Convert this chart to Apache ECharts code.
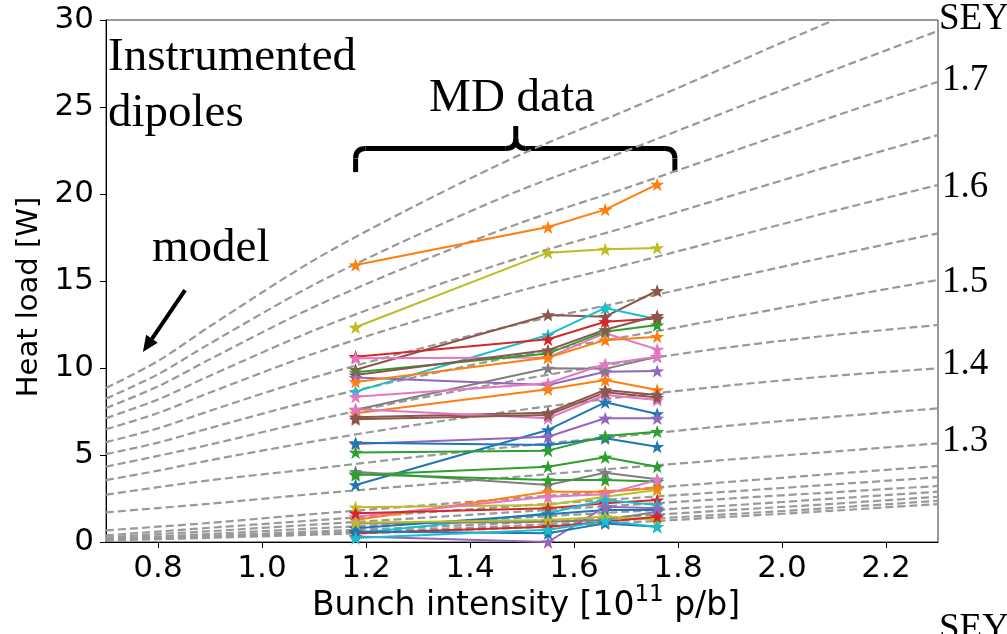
<!DOCTYPE html>
<html>
<head>
<meta charset="utf-8">
<script src="https://cdn.jsdelivr.net/npm/echarts@6/dist/echarts.min.js"></script>
<style>
html,body{margin:0;padding:0;background:#fff;}
#c{width:1007px;height:634px;}
</style>
</head>
<body>
<div id="c"></div>
<script>
// ---------- data ----------
// model curves: heat load [W] sampled at these bunch intensities
const modelX = [0.7, 0.8, 0.9, 1.1, 1.3, 1.5, 1.7, 1.9, 2.1, 2.3];
const modelSEY = [1.80, 1.75, 1.70, 1.65, 1.60, 1.55, 1.50, 1.45, 1.40, 1.35, 1.30, 1.25, 1.20, 1.15, 1.10, 1.05, 1.00, 0.95];
const modelHeat = [
  [8.85, 10.4, 12.4, 16.2, 19.4, 22.3, 24.8, 27.4, 30.0, 32.5],
  [8.24, 9.64, 11.41, 14.79, 17.66, 20.26, 22.48, 24.81, 27.13, 29.37],
  [7.70, 8.94, 10.51, 13.51, 16.06, 18.37, 20.34, 22.40, 24.46, 26.45],
  [7.12, 8.19, 9.56, 12.16, 14.38, 16.38, 18.09, 19.88, 21.67, 23.39],
  [6.48, 7.41, 8.59, 10.83, 12.74, 14.47, 15.94, 17.49, 19.03, 20.52],
  [5.74, 6.53, 7.54, 9.46, 11.09, 12.57, 13.83, 15.15, 16.47, 17.74],
  [5.05, 5.71, 6.55, 8.15, 9.51, 10.75, 11.80, 12.90, 14.00, 15.06],
  [4.33, 4.95, 5.60, 7.00, 8.25, 9.35, 10.35, 11.20, 11.90, 12.47],
  [3.56, 4.10, 4.70, 5.78, 6.75, 7.60, 8.35, 9.00, 9.55, 9.98],
  [2.72, 3.15, 3.55, 4.21, 4.90, 5.53, 6.10, 6.69, 7.20, 7.68],
  [1.70, 1.95, 2.20, 2.76, 3.27, 3.77, 4.27, 4.74, 5.20, 5.67],
  [0.67, 0.88, 1.10, 1.61, 2.08, 2.54, 3.00, 3.46, 3.92, 4.37],
  [0.38, 0.60, 0.82, 1.24, 1.67, 2.09, 2.50, 2.90, 3.31, 3.72],
  [0.26, 0.45, 0.62, 1.00, 1.37, 1.75, 2.12, 2.50, 2.86, 3.22],
  [0.18, 0.32, 0.46, 0.78, 1.08, 1.40, 1.74, 2.10, 2.50, 2.89],
  [0.13, 0.24, 0.35, 0.60, 0.85, 1.12, 1.46, 1.83, 2.20, 2.60],
  [0.11, 0.20, 0.29, 0.50, 0.71, 0.95, 1.26, 1.60, 1.97, 2.37],
  [0.09, 0.16, 0.24, 0.42, 0.61, 0.82, 1.11, 1.45, 1.80, 2.18]
];

// MD data
const mdX = [1.18, 1.55, 1.66, 1.76];
const mdColors = [
  'orange','olive','brown','cyan','red','pink','green','brown','purple','orange',
  'gray','pink','orange','brown','pink','brown',
  'blue','purple','blue','green','green','gray','green',
  'olive','orange','pink','red','cyan','gray','blue','purple','olive','red','blue','cyan'
];
const mdValues = [
  [15.92, 18.1, 19.1, 20.55],
  [12.34, 16.63, 16.82, 16.9],
  [9.9, 13.05, 12.95, 14.44],
  [8.64, 11.9, 13.45, 12.8],
  [10.65, 11.65, 12.66, 12.85],
  [10.56, 10.61, 12.0, 11.07],
  [9.75, 10.84, 12.09, 12.47],
  [9.6, 11.03, 12.2, 13.0],
  [9.45, 9.02, 9.79, 9.83],
  [9.2, 10.6, 11.6, 11.8],
  [7.6, 9.98, 9.95, 10.65],
  [8.35, 9.12, 10.23, 10.65],
  [7.4, 8.78, 9.31, 8.74],
  [7.17, 7.43, 8.74, 8.45],
  [7.63, 7.11, 8.45, 8.16],
  [7.05, 7.3, 8.6, 8.3],
  [3.28, 6.44, 8.03, 7.36],
  [5.63, 6.05, 7.11, 7.11],
  [5.7, 5.57, 5.96, 5.48],
  [5.15, 5.25, 6.09, 6.34],
  [3.85, 4.33, 4.87, 4.33],
  [4.04, 3.28, 3.98, 3.6],
  [3.9, 3.56, 3.56, 3.47],
  [2.0, 2.13, 2.6, 2.99],
  [1.26, 2.89, 2.89, 3.09],
  [1.45, 2.6, 2.75, 3.56],
  [1.65, 1.94, 2.22, 2.41],
  [0.5, 1.65, 2.41, 2.13],
  [1.07, 1.17, 1.26, 1.74],
  [0.79, 1.6, 1.84, 1.84],
  [0.31, 0.0, 2.03, 1.94],
  [1.1, 1.26, 1.45, 1.26],
  [0.5, 0.88, 1.17, 1.45],
  [0.6, 0.5, 1.07, 0.88],
  [0.23, 0.7, 1.2, 0.88]
];

const xTicks = [0.8, 1.0, 1.2, 1.4, 1.6, 1.8, 2.0, 2.2];
const seyLabels = ['SEY', '1.7', '1.6', '1.5', '1.4', '1.3', 'SEY'];

// ---------- style ----------
const tab = {blue:'#1f77b4', orange:'#ff7f0e', green:'#2ca02c', red:'#d62728', purple:'#9467bd',
  brown:'#8c564b', pink:'#e377c2', gray:'#7f7f7f', olive:'#bcbd22', cyan:'#17becf'};
const STAR = 'path://M0,-10 L2.35,-3.24 L9.51,-3.09 L3.8,1.24 L5.88,8.09 L0,4 L-5.88,8.09 L-3.8,1.24 L-9.51,-3.09 L-2.35,-3.24 Z';
const SANS = 'DejaVu Sans';
const SERIF = 'Liberation Serif';

const series = [];
modelHeat.forEach((vals, i) => {
  series.push({
    type: 'line', name: 'SEY ' + modelSEY[i],
    data: modelX.map((x, j) => [x, vals[j]]),
    showSymbol: false, smooth: 0.3,
    lineStyle: {color: '#999999', width: 2.2, type: [8, 4]},
    silent: true, z: 2
  });
});
mdValues.forEach((vals, i) => {
  const c = tab[mdColors[i]];
  series.push({
    type: 'line',
    data: mdX.map((x, j) => [x, vals[j]]),
    symbol: STAR, symbolSize: 14, symbolKeepAspect: true, showSymbol: true,
    itemStyle: {color: c}, lineStyle: {color: c, width: 2},
    z: 3
  });
});

const chart = echarts.init(document.getElementById('c'), null, {renderer: 'canvas'});
chart.setOption({
  animation: false,
  grid: {left: 106, right: 69, top: 20, bottom: 92, show: true, borderColor: '#333', borderWidth: 1},
  xAxis: {
    type: 'value', min: 0.7, max: 2.3,
    axisLine: {show: true, lineStyle: {color: '#000', width: 1}},
    axisTick: {show: true, customValues: xTicks, length: 6, lineStyle: {color: '#000'}},
    axisLabel: {customValues: xTicks, formatter: v => v.toFixed(1), fontFamily: SANS, fontSize: 31, color: '#000', margin: 11},
    splitLine: {show: false}
  },
  yAxis: {
    type: 'value', min: 0, max: 30, interval: 5,
    axisLine: {show: true, lineStyle: {color: '#000', width: 1}},
    axisTick: {show: true, length: 6, lineStyle: {color: '#000'}},
    axisLabel: {fontFamily: SANS, fontSize: 31, color: '#000', margin: 12},
    splitLine: {show: false}
  },
  series: series
});

// ---------- annotations ----------
const P = (x, y) => chart.convertToPixel({gridIndex: 0}, [x, y]);
const a0 = P(0.852, 14.48), a1 = P(0.771, 10.92);
const dx = a1[0] - a0[0], dy = a1[1] - a0[1], L = Math.hypot(dx, dy);
const ux = dx / L, uy = dy / L, hl = 16, hw = 7;
const base = [a1[0] - ux * hl, a1[1] - uy * hl];
const head = [a1, [base[0] - uy * hw, base[1] + ux * hw], [base[0] + uy * hw, base[1] - ux * hw]];

const bl = P(1.18, 21.26), bt = P(1.18, 22.61), bc = P(1.488, 22.61), bp = P(1.488, 23.91), br = P(1.794, 22.61), brb = P(1.794, 21.26);
const r = 10, ty = bt[1];
const bs = {stroke: '#000', lineWidth: 5, fill: null};
const brace = [
  {type: 'line', shape: {x1: bl[0], y1: bl[1], x2: bl[0], y2: ty + r}, style: bs},
  {type: 'bezierCurve', shape: {x1: bl[0], y1: ty + r, cpx1: bl[0], cpy1: ty, x2: bl[0] + r, y2: ty}, style: bs},
  {type: 'line', shape: {x1: bl[0] + r, y1: ty, x2: bc[0] - r, y2: ty}, style: bs},
  {type: 'bezierCurve', shape: {x1: bc[0] - r, y1: ty, cpx1: bc[0], cpy1: ty, x2: bc[0], y2: ty - r}, style: bs},
  {type: 'line', shape: {x1: bc[0], y1: ty - r, x2: bp[0], y2: bp[1]}, style: bs},
  {type: 'bezierCurve', shape: {x1: bc[0], y1: ty - r, cpx1: bc[0], cpy1: ty, x2: bc[0] + r, y2: ty}, style: bs},
  {type: 'line', shape: {x1: bc[0] + r, y1: ty, x2: br[0] - r, y2: ty}, style: bs},
  {type: 'bezierCurve', shape: {x1: br[0] - r, y1: ty, cpx1: br[0], cpy1: ty, x2: br[0], y2: ty + r}, style: bs},
  {type: 'line', shape: {x1: br[0], y1: ty + r, x2: brb[0], y2: brb[1]}, style: bs}
];

const seyY = [19, 80, 187, 282, 364, 441, 629];
const seyGraphics = seyLabels.map((t, i) => ({
  type: 'text', x: (t === 'SEY' ? 939 : 942), y: seyY[i],
  style: {text: t, fontFamily: SERIF, fontSize: 37, fill: '#000', align: 'left', verticalAlign: 'middle'}
}));

chart.setOption({
  graphic: [
    {type: 'text', x: 108, y: 58, style: {text: 'Instrumented', fontFamily: SERIF, fontSize: 47, fill: '#000', align: 'left', verticalAlign: 'middle'}},
    {type: 'text', x: 108, y: 114, style: {text: 'dipoles', fontFamily: SERIF, fontSize: 47, fill: '#000', align: 'left', verticalAlign: 'middle'}},
    {type: 'text', x: 512, y: 99, style: {text: 'MD data', fontFamily: SERIF, fontSize: 47, fill: '#000', align: 'center', verticalAlign: 'middle'}},
    {type: 'text', x: 152, y: 249, style: {text: 'model', fontFamily: SERIF, fontSize: 47, fill: '#000', align: 'left', verticalAlign: 'middle'}},
    {type: 'line', shape: {x1: a0[0], y1: a0[1], x2: base[0], y2: base[1]}, style: {stroke: '#000', lineWidth: 4}},
    {type: 'polygon', shape: {points: head}, style: {fill: '#000'}},
    {type: 'text', x: 29, y: 297, rotation: Math.PI / 2,
      style: {text: 'Heat load [W]', fontFamily: SANS, fontSize: 29, fill: '#000', align: 'center', verticalAlign: 'middle'}},
    {type: 'text', x: 526, y: 606,
      style: {text: '{a|Bunch intensity [10}{s|11}{a| p/b]}', align: 'center', verticalAlign: 'middle',
        rich: {a: {fontFamily: SANS, fontSize: 33, fill: '#000', lineHeight: 44},
               s: {fontFamily: SANS, fontSize: 23, fill: '#000', verticalAlign: 'top', lineHeight: 23}}}}
  ].concat(brace, seyGraphics)
});
</script>
</body>
</html>
